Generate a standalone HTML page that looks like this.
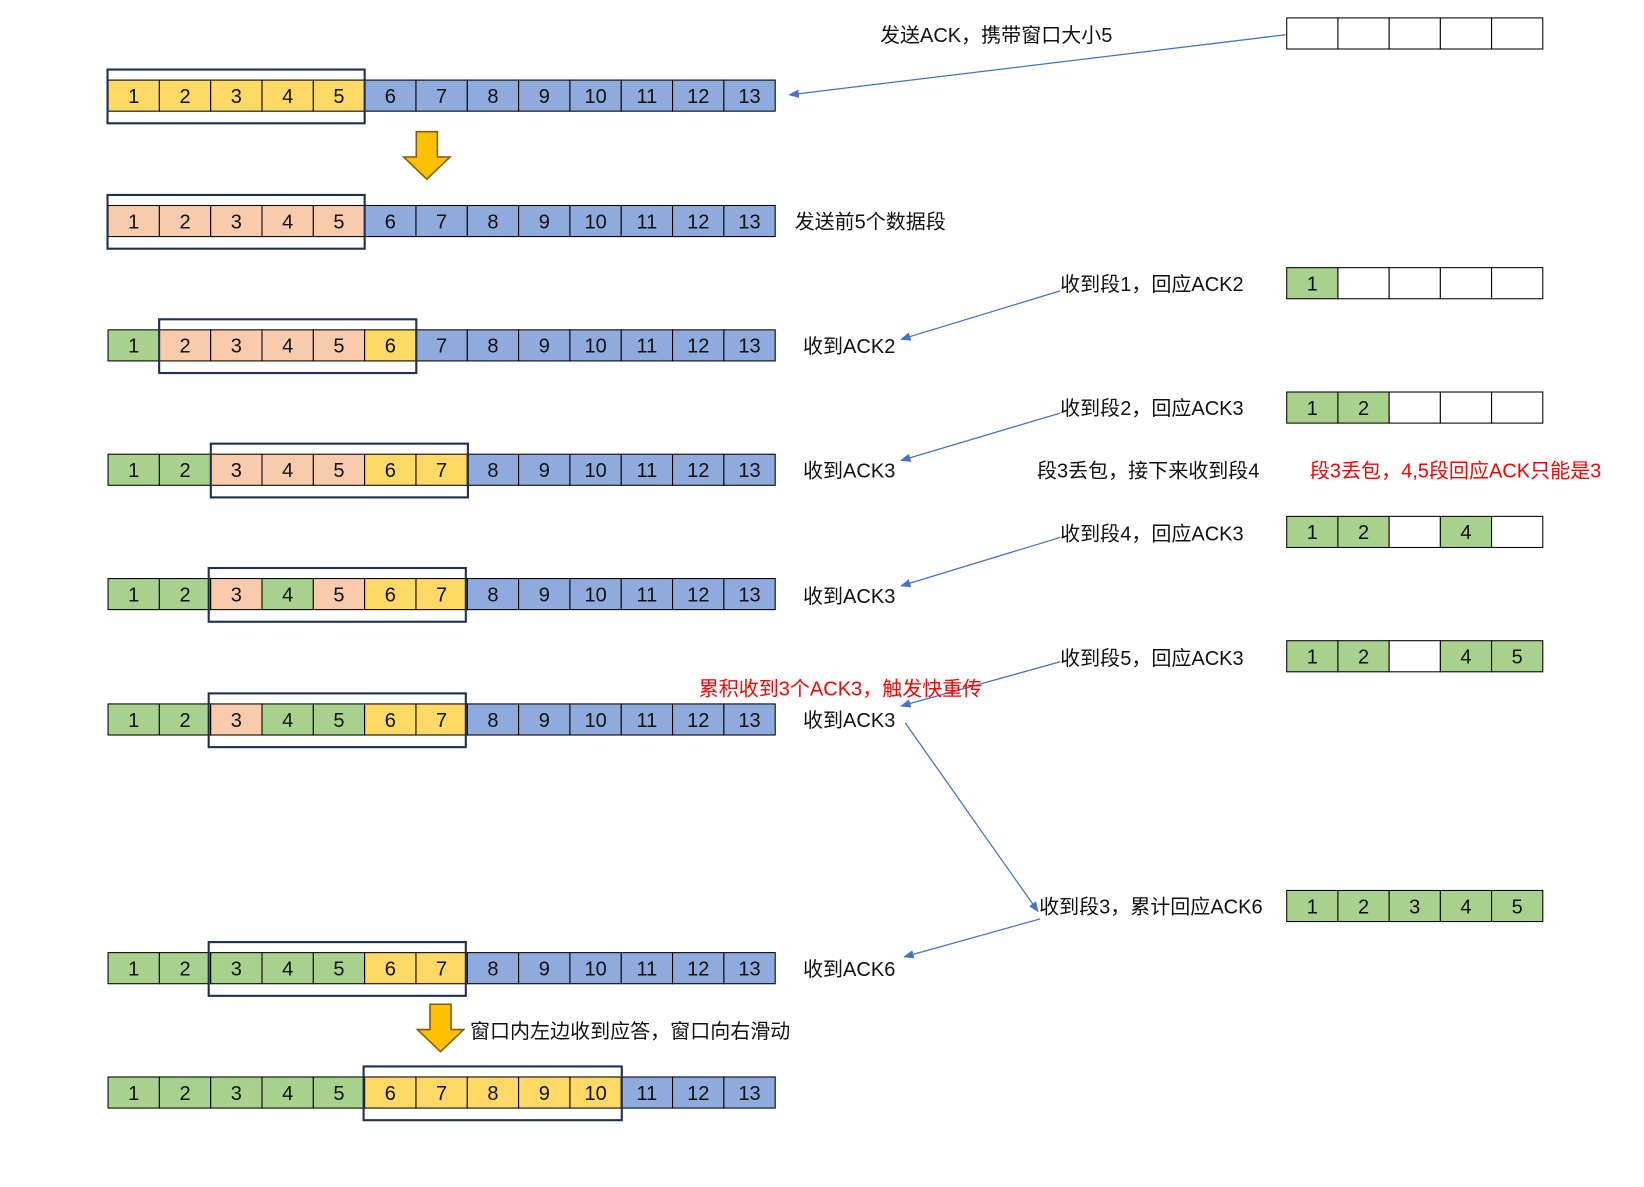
<!DOCTYPE html>
<html><head><meta charset="utf-8"><style>
html,body{margin:0;padding:0;background:#fff;}
svg{display:block;}
text{font-family:"Liberation Sans","Noto Sans CJK SC",sans-serif;font-size:19px;fill:#111;}
.n text{text-anchor:middle;dominant-baseline:central;}
.r{fill:#f00;}
rect.y,rect.b,rect.p,rect.g,rect.w{stroke:#000;stroke-width:1;}
.y{fill:#FFD966}.b{fill:#8FAADC}.p{fill:#F8CBAD}.g{fill:#A9D18E}.w{fill:#fff}
.f{fill:none;stroke:#1F3050;stroke-width:2;}
</style></head><body>
<svg width="1644" height="1187" viewBox="0 0 1560 1126.4" xmlns="http://www.w3.org/2000/svg">
<defs><marker id="a" markerWidth="10" markerHeight="8" refX="9" refY="4" orient="auto" markerUnits="userSpaceOnUse"><path d="M0,0 L10,4 L0,8 Z" fill="#4472C4"/></marker></defs>

<!-- Row 1 y=76 -->
<g transform="translate(0,76)" class="n">
<rect class="y" x="102.5" width="48.7" height="29.5"/><rect class="y" x="151.2" width="48.7" height="29.5"/><rect class="y" x="199.9" width="48.7" height="29.5"/><rect class="y" x="248.6" width="48.7" height="29.5"/><rect class="y" x="297.3" width="48.7" height="29.5"/><rect class="b" x="346" width="48.7" height="29.5"/><rect class="b" x="394.7" width="48.7" height="29.5"/><rect class="b" x="443.4" width="48.7" height="29.5"/><rect class="b" x="492.1" width="48.7" height="29.5"/><rect class="b" x="540.8" width="48.7" height="29.5"/><rect class="b" x="589.5" width="48.7" height="29.5"/><rect class="b" x="638.2" width="48.7" height="29.5"/><rect class="b" x="686.9" width="48.7" height="29.5"/>
<text x="126.85" y="16">1</text><text x="175.55" y="16">2</text><text x="224.25" y="16">3</text><text x="272.95" y="16">4</text><text x="321.65" y="16">5</text><text x="370.35" y="16">6</text><text x="419.05" y="16">7</text><text x="467.75" y="16">8</text><text x="516.45" y="16">9</text><text x="565.15" y="16">10</text><text x="613.85" y="16">11</text><text x="662.55" y="16">12</text><text x="711.25" y="16">13</text>
<rect class="f" x="102" y="-10" width="244" height="51"/>
</g>
<!-- Row 2 y=195 -->
<g transform="translate(0,195)" class="n">
<rect class="p" x="102.5" width="48.7" height="29.5"/><rect class="p" x="151.2" width="48.7" height="29.5"/><rect class="p" x="199.9" width="48.7" height="29.5"/><rect class="p" x="248.6" width="48.7" height="29.5"/><rect class="p" x="297.3" width="48.7" height="29.5"/><rect class="b" x="346" width="48.7" height="29.5"/><rect class="b" x="394.7" width="48.7" height="29.5"/><rect class="b" x="443.4" width="48.7" height="29.5"/><rect class="b" x="492.1" width="48.7" height="29.5"/><rect class="b" x="540.8" width="48.7" height="29.5"/><rect class="b" x="589.5" width="48.7" height="29.5"/><rect class="b" x="638.2" width="48.7" height="29.5"/><rect class="b" x="686.9" width="48.7" height="29.5"/>
<text x="126.85" y="16">1</text><text x="175.55" y="16">2</text><text x="224.25" y="16">3</text><text x="272.95" y="16">4</text><text x="321.65" y="16">5</text><text x="370.35" y="16">6</text><text x="419.05" y="16">7</text><text x="467.75" y="16">8</text><text x="516.45" y="16">9</text><text x="565.15" y="16">10</text><text x="613.85" y="16">11</text><text x="662.55" y="16">12</text><text x="711.25" y="16">13</text>
<rect class="f" x="102" y="-10" width="244" height="51"/>
</g>
<!-- Row 3 y=313 -->
<g transform="translate(0,313)" class="n">
<rect class="g" x="102.5" width="48.7" height="29.5"/><rect class="p" x="151.2" width="48.7" height="29.5"/><rect class="p" x="199.9" width="48.7" height="29.5"/><rect class="p" x="248.6" width="48.7" height="29.5"/><rect class="p" x="297.3" width="48.7" height="29.5"/><rect class="y" x="346" width="48.7" height="29.5"/><rect class="b" x="394.7" width="48.7" height="29.5"/><rect class="b" x="443.4" width="48.7" height="29.5"/><rect class="b" x="492.1" width="48.7" height="29.5"/><rect class="b" x="540.8" width="48.7" height="29.5"/><rect class="b" x="589.5" width="48.7" height="29.5"/><rect class="b" x="638.2" width="48.7" height="29.5"/><rect class="b" x="686.9" width="48.7" height="29.5"/>
<text x="126.85" y="16">1</text><text x="175.55" y="16">2</text><text x="224.25" y="16">3</text><text x="272.95" y="16">4</text><text x="321.65" y="16">5</text><text x="370.35" y="16">6</text><text x="419.05" y="16">7</text><text x="467.75" y="16">8</text><text x="516.45" y="16">9</text><text x="565.15" y="16">10</text><text x="613.85" y="16">11</text><text x="662.55" y="16">12</text><text x="711.25" y="16">13</text>
<rect class="f" x="151" y="-10" width="244" height="51"/>
</g>
<!-- Row 4 y=431 -->
<g transform="translate(0,431)" class="n">
<rect class="g" x="102.5" width="48.7" height="29.5"/><rect class="g" x="151.2" width="48.7" height="29.5"/><rect class="p" x="199.9" width="48.7" height="29.5"/><rect class="p" x="248.6" width="48.7" height="29.5"/><rect class="p" x="297.3" width="48.7" height="29.5"/><rect class="y" x="346" width="48.7" height="29.5"/><rect class="y" x="394.7" width="48.7" height="29.5"/><rect class="b" x="443.4" width="48.7" height="29.5"/><rect class="b" x="492.1" width="48.7" height="29.5"/><rect class="b" x="540.8" width="48.7" height="29.5"/><rect class="b" x="589.5" width="48.7" height="29.5"/><rect class="b" x="638.2" width="48.7" height="29.5"/><rect class="b" x="686.9" width="48.7" height="29.5"/>
<text x="126.85" y="16">1</text><text x="175.55" y="16">2</text><text x="224.25" y="16">3</text><text x="272.95" y="16">4</text><text x="321.65" y="16">5</text><text x="370.35" y="16">6</text><text x="419.05" y="16">7</text><text x="467.75" y="16">8</text><text x="516.45" y="16">9</text><text x="565.15" y="16">10</text><text x="613.85" y="16">11</text><text x="662.55" y="16">12</text><text x="711.25" y="16">13</text>
<rect class="f" x="200" y="-10" width="244" height="51"/>
</g>
<!-- Row 5 y=549 -->
<g transform="translate(0,549)" class="n">
<rect class="g" x="102.5" width="48.7" height="29.5"/><rect class="g" x="151.2" width="48.7" height="29.5"/><rect class="p" x="199.9" width="48.7" height="29.5"/><rect class="g" x="248.6" width="48.7" height="29.5"/><rect class="p" x="297.3" width="48.7" height="29.5"/><rect class="y" x="346" width="48.7" height="29.5"/><rect class="y" x="394.7" width="48.7" height="29.5"/><rect class="b" x="443.4" width="48.7" height="29.5"/><rect class="b" x="492.1" width="48.7" height="29.5"/><rect class="b" x="540.8" width="48.7" height="29.5"/><rect class="b" x="589.5" width="48.7" height="29.5"/><rect class="b" x="638.2" width="48.7" height="29.5"/><rect class="b" x="686.9" width="48.7" height="29.5"/>
<text x="126.85" y="16">1</text><text x="175.55" y="16">2</text><text x="224.25" y="16">3</text><text x="272.95" y="16">4</text><text x="321.65" y="16">5</text><text x="370.35" y="16">6</text><text x="419.05" y="16">7</text><text x="467.75" y="16">8</text><text x="516.45" y="16">9</text><text x="565.15" y="16">10</text><text x="613.85" y="16">11</text><text x="662.55" y="16">12</text><text x="711.25" y="16">13</text>
<rect class="f" x="198" y="-10" width="244" height="51"/>
</g>
<!-- Row 6 y=668 -->
<g transform="translate(0,668)" class="n">
<rect class="g" x="102.5" width="48.7" height="29.5"/><rect class="g" x="151.2" width="48.7" height="29.5"/><rect class="p" x="199.9" width="48.7" height="29.5"/><rect class="g" x="248.6" width="48.7" height="29.5"/><rect class="g" x="297.3" width="48.7" height="29.5"/><rect class="y" x="346" width="48.7" height="29.5"/><rect class="y" x="394.7" width="48.7" height="29.5"/><rect class="b" x="443.4" width="48.7" height="29.5"/><rect class="b" x="492.1" width="48.7" height="29.5"/><rect class="b" x="540.8" width="48.7" height="29.5"/><rect class="b" x="589.5" width="48.7" height="29.5"/><rect class="b" x="638.2" width="48.7" height="29.5"/><rect class="b" x="686.9" width="48.7" height="29.5"/>
<text x="126.85" y="16">1</text><text x="175.55" y="16">2</text><text x="224.25" y="16">3</text><text x="272.95" y="16">4</text><text x="321.65" y="16">5</text><text x="370.35" y="16">6</text><text x="419.05" y="16">7</text><text x="467.75" y="16">8</text><text x="516.45" y="16">9</text><text x="565.15" y="16">10</text><text x="613.85" y="16">11</text><text x="662.55" y="16">12</text><text x="711.25" y="16">13</text>
<rect class="f" x="198" y="-10" width="244" height="51"/>
</g>
<!-- Row 7 y=904 -->
<g transform="translate(0,904)" class="n">
<rect class="g" x="102.5" width="48.7" height="29.5"/><rect class="g" x="151.2" width="48.7" height="29.5"/><rect class="g" x="199.9" width="48.7" height="29.5"/><rect class="g" x="248.6" width="48.7" height="29.5"/><rect class="g" x="297.3" width="48.7" height="29.5"/><rect class="y" x="346" width="48.7" height="29.5"/><rect class="y" x="394.7" width="48.7" height="29.5"/><rect class="b" x="443.4" width="48.7" height="29.5"/><rect class="b" x="492.1" width="48.7" height="29.5"/><rect class="b" x="540.8" width="48.7" height="29.5"/><rect class="b" x="589.5" width="48.7" height="29.5"/><rect class="b" x="638.2" width="48.7" height="29.5"/><rect class="b" x="686.9" width="48.7" height="29.5"/>
<text x="126.85" y="16">1</text><text x="175.55" y="16">2</text><text x="224.25" y="16">3</text><text x="272.95" y="16">4</text><text x="321.65" y="16">5</text><text x="370.35" y="16">6</text><text x="419.05" y="16">7</text><text x="467.75" y="16">8</text><text x="516.45" y="16">9</text><text x="565.15" y="16">10</text><text x="613.85" y="16">11</text><text x="662.55" y="16">12</text><text x="711.25" y="16">13</text>
<rect class="f" x="198" y="-10" width="244" height="51"/>
</g>
<!-- Row 8 y=1022 -->
<g transform="translate(0,1022)" class="n">
<rect class="g" x="102.5" width="48.7" height="29.5"/><rect class="g" x="151.2" width="48.7" height="29.5"/><rect class="g" x="199.9" width="48.7" height="29.5"/><rect class="g" x="248.6" width="48.7" height="29.5"/><rect class="g" x="297.3" width="48.7" height="29.5"/><rect class="y" x="346" width="48.7" height="29.5"/><rect class="y" x="394.7" width="48.7" height="29.5"/><rect class="y" x="443.4" width="48.7" height="29.5"/><rect class="y" x="492.1" width="48.7" height="29.5"/><rect class="y" x="540.8" width="48.7" height="29.5"/><rect class="b" x="589.5" width="48.7" height="29.5"/><rect class="b" x="638.2" width="48.7" height="29.5"/><rect class="b" x="686.9" width="48.7" height="29.5"/>
<text x="126.85" y="16">1</text><text x="175.55" y="16">2</text><text x="224.25" y="16">3</text><text x="272.95" y="16">4</text><text x="321.65" y="16">5</text><text x="370.35" y="16">6</text><text x="419.05" y="16">7</text><text x="467.75" y="16">8</text><text x="516.45" y="16">9</text><text x="565.15" y="16">10</text><text x="613.85" y="16">11</text><text x="662.55" y="16">12</text><text x="711.25" y="16">13</text>
<rect class="f" x="345" y="-10" width="245" height="51"/>
</g>

<!-- Receiver boxes: x 1221,1269.6,1318.2,1366.8,1415.4 -->
<g class="n">
<g transform="translate(0,17)">
<rect class="w" x="1221" width="48.6" height="29.5"/><rect class="w" x="1269.6" width="48.6" height="29.5"/><rect class="w" x="1318.2" width="48.6" height="29.5"/><rect class="w" x="1366.8" width="48.6" height="29.5"/><rect class="w" x="1415.4" width="48.6" height="29.5"/>
</g>
<g transform="translate(0,254)">
<rect class="g" x="1221" width="48.6" height="29.5"/><rect class="w" x="1269.6" width="48.6" height="29.5"/><rect class="w" x="1318.2" width="48.6" height="29.5"/><rect class="w" x="1366.8" width="48.6" height="29.5"/><rect class="w" x="1415.4" width="48.6" height="29.5"/>
<text x="1245.3" y="16">1</text>
</g>
<g transform="translate(0,372)">
<rect class="g" x="1221" width="48.6" height="29.5"/><rect class="g" x="1269.6" width="48.6" height="29.5"/><rect class="w" x="1318.2" width="48.6" height="29.5"/><rect class="w" x="1366.8" width="48.6" height="29.5"/><rect class="w" x="1415.4" width="48.6" height="29.5"/>
<text x="1245.3" y="16">1</text><text x="1293.9" y="16">2</text>
</g>
<g transform="translate(0,490)">
<rect class="g" x="1221" width="48.6" height="29.5"/><rect class="g" x="1269.6" width="48.6" height="29.5"/><rect class="w" x="1318.2" width="48.6" height="29.5"/><rect class="g" x="1366.8" width="48.6" height="29.5"/><rect class="w" x="1415.4" width="48.6" height="29.5"/>
<text x="1245.3" y="16">1</text><text x="1293.9" y="16">2</text><text x="1391.1" y="16">4</text>
</g>
<g transform="translate(0,608)">
<rect class="g" x="1221" width="48.6" height="29.5"/><rect class="g" x="1269.6" width="48.6" height="29.5"/><rect class="w" x="1318.2" width="48.6" height="29.5"/><rect class="g" x="1366.8" width="48.6" height="29.5"/><rect class="g" x="1415.4" width="48.6" height="29.5"/>
<text x="1245.3" y="16">1</text><text x="1293.9" y="16">2</text><text x="1391.1" y="16">4</text><text x="1439.7" y="16">5</text>
</g>
<g transform="translate(0,845)">
<rect class="g" x="1221" width="48.6" height="29.5"/><rect class="g" x="1269.6" width="48.6" height="29.5"/><rect class="g" x="1318.2" width="48.6" height="29.5"/><rect class="g" x="1366.8" width="48.6" height="29.5"/><rect class="g" x="1415.4" width="48.6" height="29.5"/>
<text x="1245.3" y="16">1</text><text x="1293.9" y="16">2</text><text x="1342.5" y="16">3</text><text x="1391.1" y="16">4</text><text x="1439.7" y="16">5</text>
</g>
</g>

<g stroke="#4472C4" stroke-width="1.2" fill="none" marker-end="url(#a)">
<line x1="1220" y1="33" x2="749" y2="90"/>
<line x1="1006" y1="276" x2="855" y2="322"/>
<line x1="1006" y1="392" x2="855" y2="437"/>
<line x1="1006" y1="510" x2="855" y2="556"/>
<line x1="1006" y1="628" x2="855" y2="670"/>
<line x1="859" y1="686" x2="985" y2="865"/>
<line x1="987" y1="872" x2="858" y2="908"/>
</g>
<path d="M395,125 H415 V149 H427 L405,170 L383,149 H395 Z" fill="#FFC000" stroke="#7F6000" stroke-width="1.5"/>
<path d="M408,953 H428 V977 H440 L418,998 L396,977 H408 Z" fill="#FFC000" stroke="#7F6000" stroke-width="1.5"/>
<text x="835" y="40">发送ACK，携带窗口大小5</text>
<text x="754" y="217">发送前5个数据段</text>
<text x="1006" y="276">收到段1，回应ACK2</text>
<text x="762" y="335">收到ACK2</text>
<text x="1006" y="394">收到段2，回应ACK3</text>
<text x="762" y="453">收到ACK3</text>
<text x="984" y="453">段3丢包，接下来收到段4</text>
<text class="r" x="1243" y="453">段3丢包，4,5段回应ACK只能是3</text>
<text x="1006" y="513">收到段4，回应ACK3</text>
<text x="762" y="572">收到ACK3</text>
<text x="1006" y="631">收到段5，回应ACK3</text>
<text class="r" x="663" y="660">累积收到3个ACK3，触发快重传</text>
<text x="762" y="690">收到ACK3</text>
<text x="986" y="867">收到段3，累计回应ACK6</text>
<text x="762" y="926">收到ACK6</text>
<text x="446" y="985">窗口内左边收到应答，窗口向右滑动</text>
</svg>
</body></html>
